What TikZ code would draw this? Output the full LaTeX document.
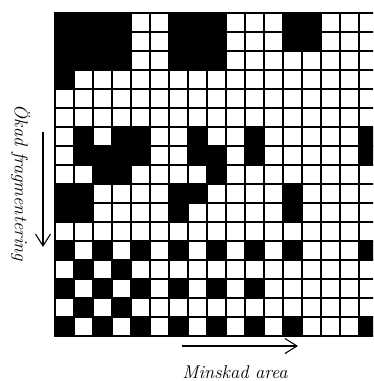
\documentclass[tikz,border=0pt]{standalone}
\usepackage{fontspec}
\usetikzlibrary{arrows.meta}

\tikzset{
  gridline/.style={line width=1.8pt,line cap=rect},
  pil/.style={line width=1.1pt,-{Straight Barb[length=12pt,width=15pt,line width=1.1pt]}},
  etikett/.style={font=\fontsize{18.5}{21}\selectfont\itshape,inner sep=0pt}
}

\begin{document}
\begin{tikzpicture}[x=1pt,y=-1pt]
    \clip (0,0) rectangle (373,381);

    \begin{scope}[shift={(55,13)},x=19pt,y=-19pt]
      % stora block overst
      \fill (0,0) rectangle (4,3);
      \fill (0,3) rectangle (1,4);
      \fill (6,0) rectangle (9,3);
      \fill (12,0) rectangle (14,2);

      % hjartat och de mindre bitarna
      \foreach \c/\r in {1/6,3/6,4/6,1/7,2/7,3/7,4/7,2/8,3/8,7/6,7/7,8/7,8/8,10/6,10/7,16/6,16/7,0/9,1/9,0/10,1/10,6/9,7/9,6/10,12/9,12/10}
        \fill (\c,\r) rectangle +(1,1);

      % rutmonstret langst ner
      \foreach \c in {0,2,...,10} {
        \fill (\c,12) rectangle +(1,1);
        \fill (\c,14) rectangle +(1,1);
        \fill (\c,16) rectangle +(1,1);
      }
      \foreach \c/\r in {12/12,16/12,12/16,16/16,1/13,3/13,1/15,3/15}
        \fill (\c,\r) rectangle +(1,1);

      \foreach \i in {0,...,17} {
        \draw[gridline] (\i,0) -- (\i,17);
        \draw[gridline] (0,\i) -- (17,\i);
      }
    \end{scope}

    \coordinate (vstart) at (43,132);
    \coordinate (vslut) at (43,247);
    \draw[pil] (vstart) -- (vslut);
    \coordinate (hstart) at (182,346);
    \coordinate (hslut) at (298,346);
    \draw[pil] (hstart) -- (hslut);

    \node (fragm) [etikett,rotate=-90,anchor=base] at (15,183) {Ökad fragmentering};
    \node (minsk) [etikett,anchor=base] at (235,378) {Minskad area};
\end{tikzpicture}
\end{document}
